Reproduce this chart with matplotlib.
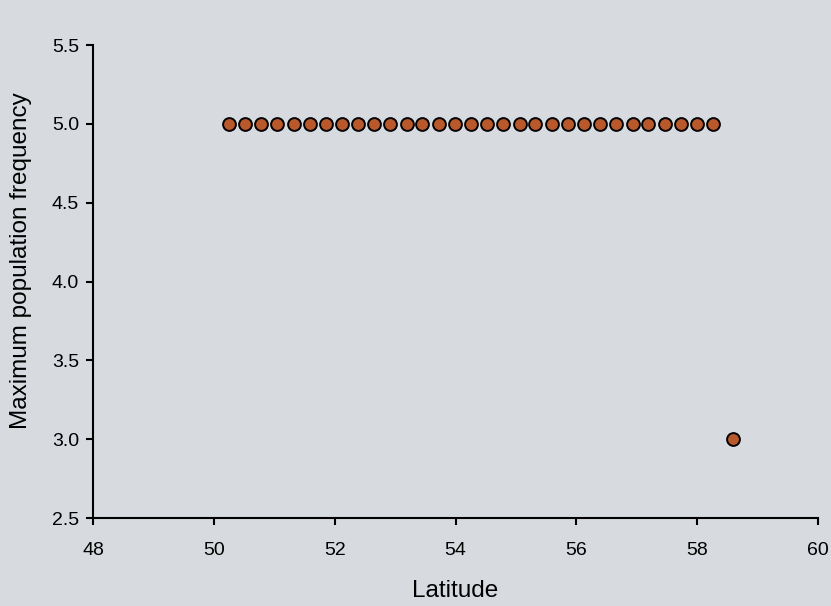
import matplotlib.pyplot as plt

plt.rcParams['font.family'] = ['Liberation Sans', 'DejaVu Sans']

# sites sharing the top frequency, plus the one northern outlier
lat = [50.25, 50.52, 50.78, 51.05, 51.32, 51.59, 51.85, 52.12, 52.39, 52.65,
       52.92, 53.19, 53.45, 53.72, 53.99, 54.26, 54.52, 54.79, 55.06, 55.32,
       55.59, 55.86, 56.12, 56.39, 56.66, 56.93, 57.19, 57.46, 57.73, 57.99,
       58.26, 58.60]
freq = [5.0] * 31 + [3.0]

bg = '#d7dbe0'
fig = plt.figure(figsize=(8.31, 6.06), dpi=100, facecolor=bg)
ax = fig.add_axes([0.1119, 0.1452, 0.8725, 0.7805], facecolor=bg)

ax.scatter(lat, freq, s=85, color='#b9592b', edgecolors='black', linewidths=1.4,
           zorder=3, clip_on=False)

ax.set_xlim(48, 60)
ax.set_ylim(2.5, 5.5)
ax.set_xticks(range(48, 61, 2))
ax.set_yticks([2.5, 3.0, 3.5, 4.0, 4.5, 5.0, 5.5])
ax.set_yticklabels(['2.5', '3.0', '3.5', '4.0', '4.5', '5.0', '5.5'])

for s in ['top', 'right']:
    ax.spines[s].set_visible(False)
for s in ['left', 'bottom']:
    ax.spines[s].set_linewidth(1.5)
ax.tick_params(direction='out', length=5, width=1.5, labelsize=14)
ax.tick_params(axis='x', pad=12)
ax.tick_params(axis='y', pad=5)

ax.set_xlabel('Latitude', fontsize=17.5)
ax.set_ylabel('Maximum population frequency', fontsize=17.5)
ax.xaxis.set_label_coords(0.5, -0.131)
ax.yaxis.set_label_coords(-0.084, 0.545)

fig.savefig('out.png', dpi=100, facecolor=bg)
